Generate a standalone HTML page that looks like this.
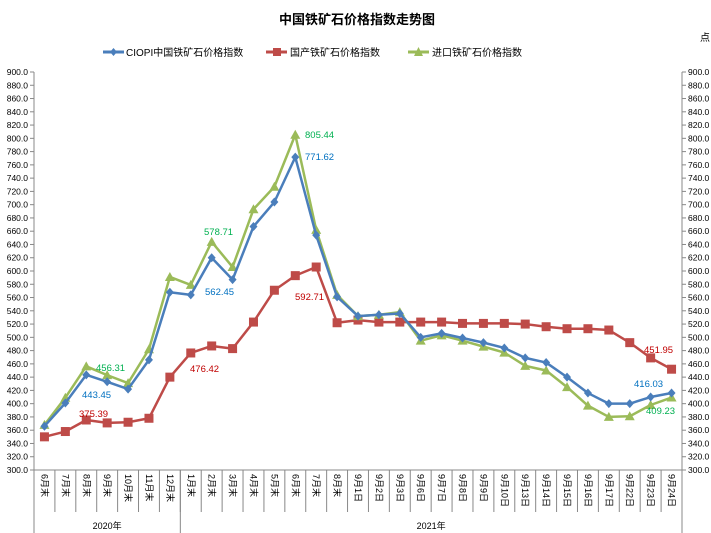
<!DOCTYPE html>
<html><head><meta charset="utf-8"><style>
body{margin:0;background:#fff;}
svg{display:block;font-family:"Liberation Sans","Noto Sans CJK SC",sans-serif;}
</style></head><body>
<svg id="chart" width="711" height="533" viewBox="0 0 711 533" xmlns="http://www.w3.org/2000/svg">
<text x="357" y="24" text-anchor="middle" font-size="13" font-weight="bold" fill="#000">中国铁矿石价格指数走势图</text>
<text x="700" y="41" font-size="10" fill="#000">点</text>
<g font-size="10" fill="#000">
 <g><line x1="103" y1="52" x2="124" y2="52" stroke="#4a7ebb" stroke-width="3"/><path d="M113.5 48 L117 52 L113.5 56 L110 52Z" fill="#4a7ebb"/><text x="126" y="56">CIOPI中国铁矿石价格指数</text></g>
 <g><line x1="266" y1="52" x2="287" y2="52" stroke="#be4b48" stroke-width="3"/><rect x="273" y="48" width="8" height="8" fill="#be4b48"/><text x="290" y="56">国产铁矿石价格指数</text></g>
 <g><line x1="408" y1="52" x2="429" y2="52" stroke="#9bbb59" stroke-width="3"/><path d="M418.5 47 L423 56 L414 56Z" fill="#9bbb59"/><text x="432" y="56">进口铁矿石价格指数</text></g>
</g>
<g id="axes"></g>
<g id="series"></g>
<g id="labels" font-size="9.5">
 <text x="82" y="398" fill="#0070c0">443.45</text>
 <text x="79" y="417" fill="#c00000">375.39</text>
 <text x="96" y="371" fill="#00b050">456.31</text>
 <text x="190" y="372" fill="#c00000">476.42</text>
 <text x="205" y="295" fill="#0070c0">562.45</text>
 <text x="204" y="235" fill="#00b050">578.71</text>
 <text x="295" y="300" fill="#c00000">592.71</text>
 <text x="305" y="160" fill="#0070c0">771.62</text>
 <text x="305" y="138" fill="#00b050">805.44</text>
 <text x="644" y="353" fill="#c00000">451.95</text>
 <text x="634" y="387" fill="#0070c0">416.03</text>
 <text x="646" y="414" fill="#00b050">409.23</text>
</g>
</svg>
<script>
const categories=["6月末","7月末","8月末","9月末","10月末","11月末","12月末","1月末","2月末","3月末","4月末","5月末","6月末","7月末","8月末","9月1日","9月2日","9月3日","9月6日","9月7日","9月8日","9月9日","9月10日","9月13日","9月14日","9月15日","9月16日","9月17日","9月22日","9月23日","9月24日"];
const ciopi=[366,401,443.45,433,422,466,568,564,620,587,667,704,771.62,654,561,532,534,536,500,506,499,492,484,469,462,440,416,400,400,410,416.03];
const domestic=[350,358,375.39,371,372,378,440,476.42,487,483,523,571,593,606,522,526,523,523,523,523,521,521,521,520,516,513,513,511,492,469,451.95];
const imported=[368,409,456.31,443,431,482,591,579,644,606,693,727,805.44,662,564,532,534,538,495,503,495,486,477,457,450,425,397,380,381,398,409.23];
const years=[{label:"2020年",start:0,end:7},{label:"2021年",start:7,end:31}];
const yMin=300,yMax=900,yStep=20;
const L=34,R=682,T=72,B=470;
const NS="http://www.w3.org/2000/svg";
const bw=(R-L)/categories.length;
function xs(i){return L+bw*(i+0.5);}
function ys(v){return B-(v-yMin)/(yMax-yMin)*(B-T);}
function mk(tag,attrs,parent){const e=document.createElementNS(NS,tag);for(const k in attrs)e.setAttribute(k,attrs[k]);parent.appendChild(e);return e;}
const axes=document.getElementById('axes');
let e;
e=mk('line',{x1:L,y1:T,x2:L,y2:533,stroke:'#888','stroke-width':1},axes);


e=mk('line',{x1:R,y1:T,x2:R,y2:533,stroke:'#888','stroke-width':1},axes);


e=mk('line',{x1:L,y1:B,x2:R,y2:B,stroke:'#888','stroke-width':1},axes);


for(let v=yMin;v<=yMax;v+=yStep){
 const y=ys(v);
 mk('line',{x1:L-4,y1:y,x2:L,y2:y,stroke:'#888'},axes);
 mk('line',{x1:R,y1:y,x2:R+4,y2:y,stroke:'#888'},axes);
 e=mk('text',{x:L-6,y:y+3,'text-anchor':'end','font-size':8.5,fill:'#000'},axes);
 e.textContent=v.toFixed(1);
 
 
 e=mk('text',{x:R+6,y:y+3,'font-size':8.5,fill:'#000'},axes);
 e.textContent=v.toFixed(1);
 
 
}
categories.forEach((c,i)=>{
 const xb=L+bw*(i+1);
 if(i<categories.length-1) mk('line',{x1:xb,y1:B,x2:xb,y2:512,stroke:'#888'},axes);
 e=mk('text',{x:0,y:0,'font-size':9,fill:'#000',transform:`translate(${xs(i)-3},${B+4}) rotate(90)`},axes);
 e.textContent=c;
 
 
});
years.forEach(yr=>{
 const xb=L+bw*yr.start;
 mk('line',{x1:xb,y1:B,x2:xb,y2:533,stroke:'#888'},axes);
 e=mk('text',{x:(L+bw*yr.start+L+bw*yr.end)/2,y:529,'text-anchor':'middle','font-size':9,fill:'#000'},axes);
 e.textContent=yr.label;
 
 
});
const sg=document.getElementById('series');
function drawSeries(vals,color,shape,name){
 const g=mk('g',{},sg);
 
 
 mk('polyline',{points:vals.map((v,i)=>xs(i)+','+ys(v)).join(' '),fill:'none',stroke:color,'stroke-width':2.5,'stroke-linejoin':'round'},g);
 vals.forEach((v,i)=>{
  const x=xs(i),y=ys(v);let m;
  if(shape==='d') m=mk('path',{d:`M${x} ${y-4.5}L${x+4} ${y}L${x} ${y+4.5}L${x-4} ${y}Z`,fill:color},g);
  else if(shape==='s') m=mk('rect',{x:x-4.5,y:y-4.5,width:9,height:9,fill:color},g);
  else m=mk('path',{d:`M${x} ${y-5}L${x+5} ${y+4}L${x-5} ${y+4}Z`,fill:color},g);
  
  
 });
}
drawSeries(domestic,'#be4b48','s','domestic-series');
drawSeries(imported,'#9bbb59','t','imported-series');
drawSeries(ciopi,'#4a7ebb','d','ciopi-series');
</script>
</body></html>
